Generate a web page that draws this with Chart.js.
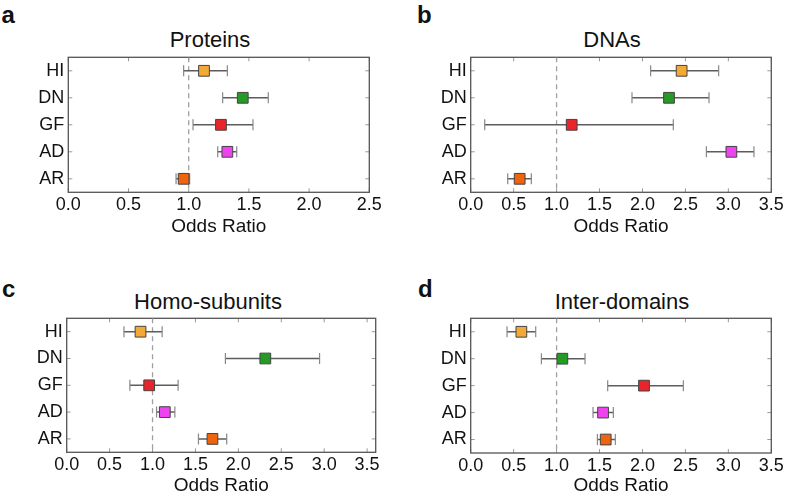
<!DOCTYPE html>
<html>
<head>
<meta charset="utf-8">
<script src="https://cdn.jsdelivr.net/npm/chart.js@4.4.0/dist/chart.umd.min.js"></script>
<style>
  body { margin: 0; background: #fff; width: 787px; height: 498px; position: relative; overflow: hidden;
         font-family: "Liberation Sans", Arial, sans-serif; color: #111; }
  .panel { position: absolute; }
  .letter { position: absolute; font-weight: bold; font-size: 24px; line-height: 24px; }
  .title { position: absolute; font-size: 22px; line-height: 22px; transform: translateX(-50%); white-space: nowrap; }
</style>
</head>
<body>
<div class="letter" style="left:1.5px;top:3px">a</div>
<div class="letter" style="left:417px;top:3px">b</div>
<div class="letter" style="left:2px;top:277px">c</div>
<div class="letter" style="left:418px;top:277px">d</div>

<div class="title" style="left:210px;top:29px">Proteins</div>
<div class="title" style="left:612px;top:29px">DNAs</div>
<div class="title" style="left:208px;top:290.5px">Homo-subunits</div>
<div class="title" style="left:622px;top:290.5px">Inter-domains</div>

<div class="panel" style="left:0;top:0;width:393px;height:249px"><canvas id="chart-a"></canvas></div>
<div class="panel" style="left:393px;top:0;width:394px;height:249px"><canvas id="chart-b"></canvas></div>
<div class="panel" style="left:0;top:249px;width:393px;height:249px"><canvas id="chart-c"></canvas></div>
<div class="panel" style="left:393px;top:249px;width:394px;height:249px"><canvas id="chart-d"></canvas></div>

<script>
// rows, top to bottom
const rows = ["HI", "DN", "GF", "AD", "AR"];
const rowColors = ["#f2aa35", "#259a25", "#e9252b", "#f043f0", "#ee6510"];

// odds ratios with lower / upper bounds
const proteinsOR = [1.127, 1.449, 1.268, 1.321, 0.958];
const proteinsLow = [0.958, 1.282, 1.036, 1.241, 0.895];
const proteinsHigh = [1.321, 1.661, 1.534, 1.399, 1.008];

const dnasOR = [2.456, 2.309, 1.176, 3.035, 0.570];
const dnasLow = [2.095, 1.878, 0.163, 2.744, 0.431];
const dnasHigh = [2.887, 2.775, 2.359, 3.298, 0.706];

const homoOR = [0.860, 2.314, 0.961, 1.143, 1.698];
const homoLow = [0.667, 1.849, 0.736, 1.047, 1.535];
const homoHigh = [1.112, 2.946, 1.298, 1.260, 1.864];

const interOR = [0.590, 1.067, 2.018, 1.541, 1.572];
const interLow = [0.423, 0.823, 1.595, 1.424, 1.475];
const interHigh = [0.757, 1.331, 2.476, 1.661, 1.684];

const ticksShort = [0, 0.5, 1, 1.5, 2, 2.5];
const ticksLong = [0, 0.5, 1, 1.5, 2, 2.5, 3, 3.5];
const refLine = 1;

const tickFont = { family: "'Liberation Sans', Arial, sans-serif", size: 18 };

// plot frame with small inward ticks on all four sides
const framePlugin = {
  id: "frame",
  beforeDatasetsDraw(chart) {
    const { ctx, chartArea: a, scales } = chart;
    ctx.save();
    ctx.strokeStyle = "#999";
    ctx.lineWidth = 1;
    ctx.beginPath();
    scales.x.ticks.forEach((t) => {
      const px = scales.x.getPixelForValue(t.value);
      ctx.moveTo(px, a.bottom); ctx.lineTo(px, a.bottom - 4);
      ctx.moveTo(px, a.top); ctx.lineTo(px, a.top + 4);
    });
    scales.y.ticks.forEach((t) => {
      const py = scales.y.getPixelForValue(t.value);
      ctx.moveTo(a.left, py); ctx.lineTo(a.left + 4, py);
      ctx.moveTo(a.right, py); ctx.lineTo(a.right - 4, py);
    });
    ctx.stroke();
    ctx.strokeStyle = "#555";
    ctx.lineWidth = 1.3;
    ctx.strokeRect(a.left, a.top, a.right - a.left, a.bottom - a.top);
    ctx.restore();
  },
};

function makePanel(id, odds, low, high, xMax, xTicks, box) {
  const datasets = [];

  // square markers
  datasets.push({
    data: odds.map((v, i) => ({ x: v, y: i })),
    pointStyle: "rect",
    pointRadius: 7.6,
    pointBackgroundColor: rowColors,
    pointBorderColor: "#444",
    pointBorderWidth: 1,
  });

  // error bars with caps
  rows.forEach((r, i) => {
    datasets.push({
      data: [{ x: low[i], y: i }, { x: high[i], y: i }],
      showLine: true,
      borderColor: "#5c5c5c",
      borderWidth: 1.5,
      pointStyle: "line",
      pointRotation: 90,
      pointRadius: 5.5,
      pointBorderColor: "#888",
      pointBorderWidth: 1.2,
    });
  });

  // dashed reference line at odds ratio 1
  datasets.push({
    data: [{ x: refLine, y: -0.5 }, { x: refLine, y: rows.length - 0.5 }],
    showLine: true,
    borderColor: "#a0a0a0",
    borderWidth: 1.3,
    borderDash: [5, 4],
    pointRadius: 0,
  });

  new Chart(document.getElementById(id), {
    type: "scatter",
    data: { datasets: datasets },
    options: {
      responsive: true,
      maintainAspectRatio: false,
      animation: false,
      events: [],
      layout: { autoPadding: false, padding: { left: 0, right: box.padRight, top: box.padTop, bottom: 0 } },
      plugins: { legend: { display: false }, tooltip: { enabled: false } },
      scales: {
        x: {
          type: "linear",
          min: 0,
          max: xMax,
          afterBuildTicks: (s) => { s.ticks = xTicks.map((v) => ({ value: v })); },
          afterFit: (s) => { s.height = box.xHeight; },
          grid: { display: false, drawTicks: false },
          border: { display: false },
          ticks: { color: "#111", font: tickFont, padding: 2, maxRotation: 0, callback: (v) => v.toFixed(1) },
          title: { display: true, text: "Odds Ratio", color: "#111",
                   font: { family: tickFont.family, size: 19 }, padding: { top: 0, bottom: box.titlePad } },
        },
        y: {
          type: "linear",
          reverse: true,
          min: -0.5,
          max: rows.length - 0.5,
          afterBuildTicks: (s) => { s.ticks = rows.map((r, i) => ({ value: i })); },
          afterFit: (s) => { s.width = box.yWidth; },
          grid: { display: false, drawTicks: false },
          border: { display: false },
          ticks: { color: "#111", font: tickFont, padding: 4, callback: (v) => rows[v] },
        },
      },
    },
    plugins: [framePlugin],
  });
}

makePanel("chart-a", proteinsOR, proteinsLow, proteinsHigh, 2.5, ticksShort,
  { yWidth: 68.3, padRight: 23.7, padTop: 57.3, xHeight: 56.7, titlePad: 10.5 });
makePanel("chart-b", dnasOR, dnasLow, dnasHigh, 3.5, ticksLong,
  { yWidth: 77.7, padRight: 15.7, padTop: 57.3, xHeight: 56.7, titlePad: 10.5 });
makePanel("chart-c", homoOR, homoLow, homoHigh, 3.6, ticksLong,
  { yWidth: 66.7, padRight: 17.3, padTop: 69.3, xHeight: 45.7, titlePad: 0.5 });
makePanel("chart-d", interOR, interLow, interHigh, 3.5, ticksLong,
  { yWidth: 77.7, padRight: 15.7, padTop: 69.3, xHeight: 45, titlePad: 0.5 });
</script>
</body>
</html>
